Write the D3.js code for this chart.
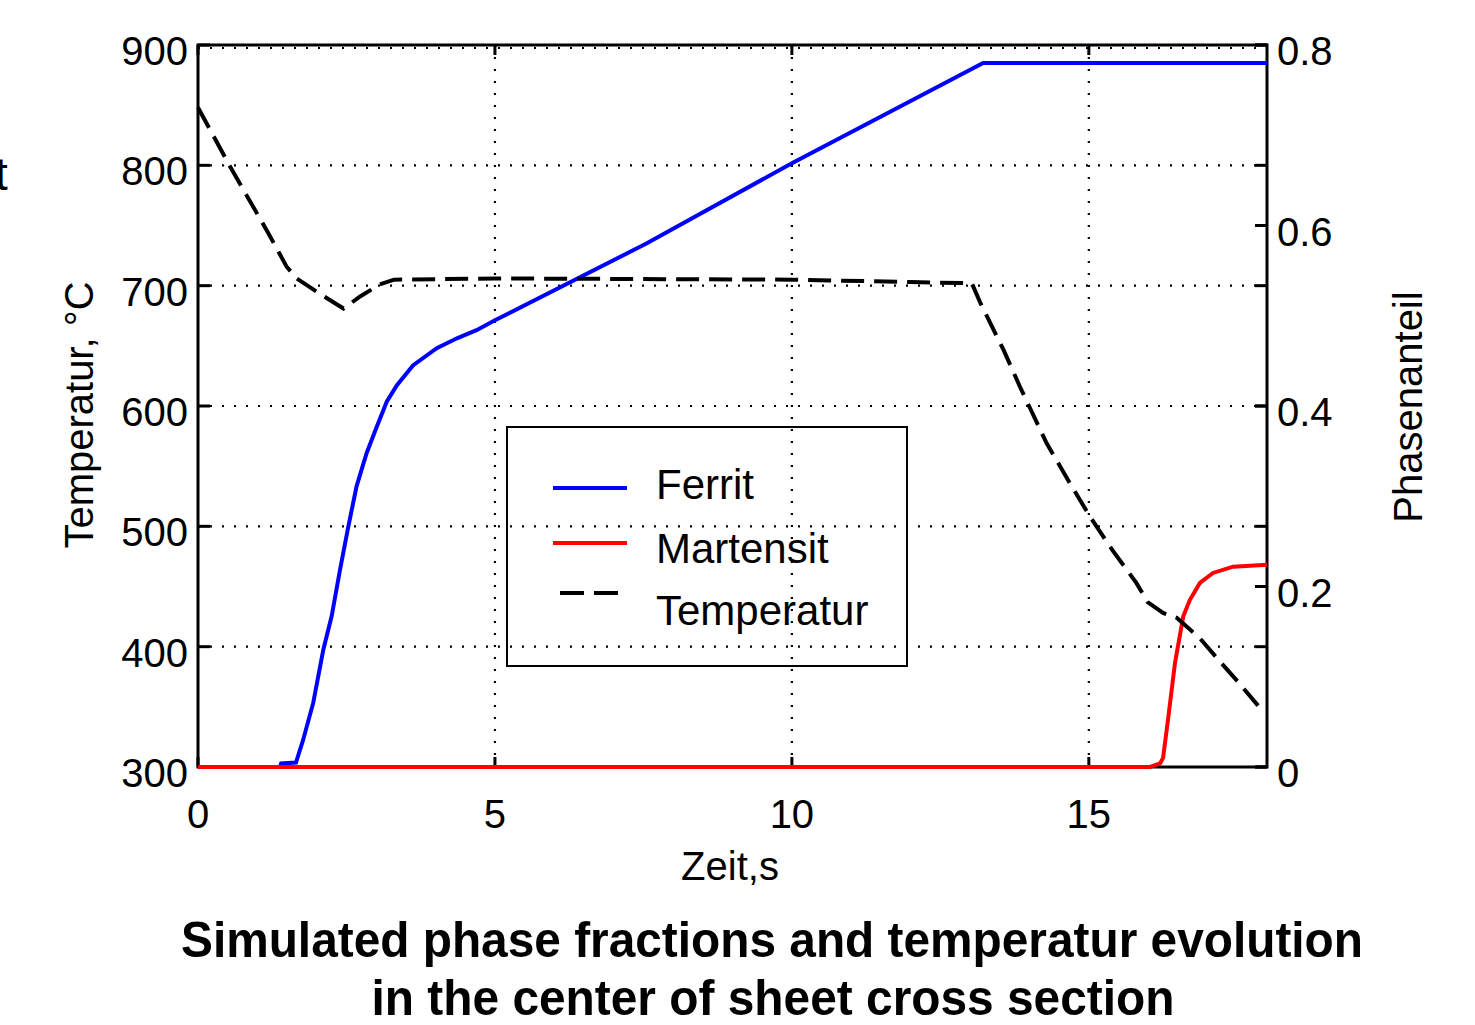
<!DOCTYPE html>
<html>
<head>
<meta charset="utf-8">
<script src="https://cdn.jsdelivr.net/npm/d3@7"></script>
<style>
  body { margin: 0; background: #fff; }
  text { font-family: "Liberation Sans", Arial, sans-serif; }
</style>
</head>
<body>
<svg id="plot" width="1475" height="1025"></svg>
<script>
// axis ticks
const timeTicks = [0, 5, 10, 15];
const tempTicks = [300, 400, 500, 600, 700, 800, 900];
const phaseTicks = [0, 0.2, 0.4, 0.6, 0.8];

// Temperatur (left axis)
const tempTime = [0, 0.54, 1.18, 1.49, 1.66, 2.03, 2.45, 2.73, 3.06, 3.3, 5, 10, 12, 13.03, 13.17, 13.56, 13.84, 14.29, 14.68, 15.02, 15.4, 15.8, 15.99, 16.25, 16.48, 16.87, 17.2, 17.49, 17.85];
const tempVal = [848, 799, 744, 716, 706, 694, 681, 691, 701, 705, 706, 705, 703, 702, 686, 647, 616, 569, 536, 508, 480, 453, 437, 428, 424, 407, 388, 372, 351];

// Ferrit (right axis)
const ferritTime = [0, 1.38, 1.4, 1.65, 1.77, 1.94, 2.11, 2.25, 2.39, 2.53, 2.67, 2.84, 3.01, 3.18, 3.35, 3.62, 4.02, 4.36, 4.69, 5.0, 7.55, 10, 13.22, 18];
const ferritVal = [0, 0, 0.004, 0.005, 0.03, 0.071, 0.13, 0.167, 0.218, 0.266, 0.311, 0.348, 0.377, 0.405, 0.423, 0.445, 0.464, 0.475, 0.484, 0.495, 0.58, 0.669, 0.78, 0.78];

// Martensit (right axis)
const martTime = [0, 16.03, 16.2, 16.25, 16.34, 16.45, 16.59, 16.7, 16.87, 17.09, 17.43, 18];
const martVal = [0, 0, 0.004, 0.01, 0.056, 0.115, 0.167, 0.185, 0.204, 0.215, 0.222, 0.224];

const legendNames = ['Ferrit', 'Martensit', 'Temperatur'];

const svg = d3.select('#plot');
const L = 198, R = 1267, T = 45, B = 767;

const x = d3.scaleLinear().domain([0, 18]).range([L, R]);
const yT = d3.scaleLinear().domain([300, 900]).range([B, T]);
const yP = d3.scaleLinear().domain([0, 0.8]).range([B, T]);

// dotted grid
const grid = svg.append('g').attr('stroke', '#000').attr('stroke-width', 2.2)
  .attr('stroke-dasharray', '2,10');
grid.selectAll('.gh').data(tempTicks.filter(d => d > 300)).join('line')
  .attr('x1', L).attr('x2', R)
  .attr('y1', d => yT(d) + (d === 900 ? 3 : 0)).attr('y2', d => yT(d) + (d === 900 ? 3 : 0));
grid.selectAll('.gv').data(timeTicks.filter(d => d > 0)).join('line')
  .attr('x1', d => x(d)).attr('x2', d => x(d))
  .attr('y1', T).attr('y2', B);

// frame
svg.append('rect').attr('x', L).attr('y', T).attr('width', R - L).attr('height', B - T)
  .attr('fill', 'none').attr('stroke', '#000').attr('stroke-width', 3);

// ticks
const ticks = svg.append('g').attr('stroke', '#000').attr('stroke-width', 3);
tempTicks.forEach(d => {
  ticks.append('line').attr('x1', L).attr('x2', L + 12).attr('y1', yT(d)).attr('y2', yT(d));
  ticks.append('line').attr('x1', R - 12).attr('x2', R).attr('y1', yT(d)).attr('y2', yT(d));
});
phaseTicks.forEach(d => {
  ticks.append('line').attr('x1', R - 12).attr('x2', R).attr('y1', yP(d)).attr('y2', yP(d));
});
timeTicks.forEach(d => {
  ticks.append('line').attr('x1', x(d)).attr('x2', x(d)).attr('y1', B).attr('y2', B - 10);
  ticks.append('line').attr('x1', x(d)).attr('x2', x(d)).attr('y1', T).attr('y2', T + 10);
});

// tick labels
svg.append('g').selectAll('text').data(tempTicks).join('text')
  .attr('x', 188).attr('y', d => yT(d) + 20)
  .attr('text-anchor', 'end').attr('font-size', 40).text(d => d);
svg.append('g').selectAll('text').data(phaseTicks).join('text')
  .attr('x', 1277).attr('y', d => yP(d) + 20)
  .attr('font-size', 40).text(d => d === 0 ? '0' : d.toFixed(1));
svg.append('g').selectAll('text').data(timeTicks).join('text')
  .attr('x', d => x(d)).attr('y', 828)
  .attr('text-anchor', 'middle').attr('font-size', 40).text(d => d);

// axis labels
svg.append('text').attr('x', 730).attr('y', 880).attr('text-anchor', 'middle')
  .attr('font-size', 40).text('Zeit,s');
svg.append('text').attr('transform', 'translate(93,415) rotate(-90)')
  .attr('text-anchor', 'middle').attr('font-size', 40).text('Temperatur, °C');
svg.append('text').attr('transform', 'translate(1422,407) rotate(-90)')
  .attr('text-anchor', 'middle').attr('font-size', 40).text('Phasenanteil');

// leftover letter cut by the left edge, as in the source image
svg.append('text').attr('x', -5).attr('y', 190).attr('font-size', 46).text('t');

// curves
const lineT = d3.line().x((d, i) => x(tempTime[i])).y(d => yT(d));
const lineP = (times) => d3.line().x((d, i) => x(times[i])).y(d => yP(d));

svg.append('path').attr('d', lineP(ferritTime)(ferritVal))
  .attr('fill', 'none').attr('stroke', '#0000ff').attr('stroke-width', 4);
svg.append('path').attr('d', lineP(martTime)(martVal))
  .attr('fill', 'none').attr('stroke', '#ff0000').attr('stroke-width', 4);
svg.append('path').attr('d', lineT(tempVal))
  .attr('fill', 'none').attr('stroke', '#000').attr('stroke-width', 4)
  .attr('stroke-dasharray', '23,10');

// legend
const leg = svg.append('g');
leg.append('rect').attr('x', 507).attr('y', 427).attr('width', 400).attr('height', 239)
  .attr('fill', 'none').attr('stroke', '#000').attr('stroke-width', 2);
const legY = [488, 543, 593];
const legColor = ['#0000ff', '#ff0000', '#000'];
legendNames.forEach((name, i) => {
  leg.append('line').attr('x1', i === 2 ? 560 : 553).attr('x2', i === 2 ? 618 : 627)
    .attr('y1', legY[i]).attr('y2', legY[i])
    .attr('stroke', legColor[i]).attr('stroke-width', 4)
    .attr('stroke-dasharray', i === 2 ? '24,10' : null);
  leg.append('text').attr('x', 656).attr('y', [499, 563, 625][i])
    .attr('font-size', 42).text(name);
});

// caption
svg.append('text').attr('x', 772).attr('y', 957).attr('text-anchor', 'middle')
  .attr('font-size', 50).attr('font-weight', 'bold')
  .attr('textLength', 1182).attr('lengthAdjust', 'spacingAndGlyphs')
  .text('Simulated phase fractions and temperatur evolution');
svg.append('text').attr('x', 773).attr('y', 1015).attr('text-anchor', 'middle')
  .attr('font-size', 50).attr('font-weight', 'bold')
  .attr('textLength', 803).attr('lengthAdjust', 'spacingAndGlyphs')
  .text('in the center of sheet cross section');
</script>
</body>
</html>
